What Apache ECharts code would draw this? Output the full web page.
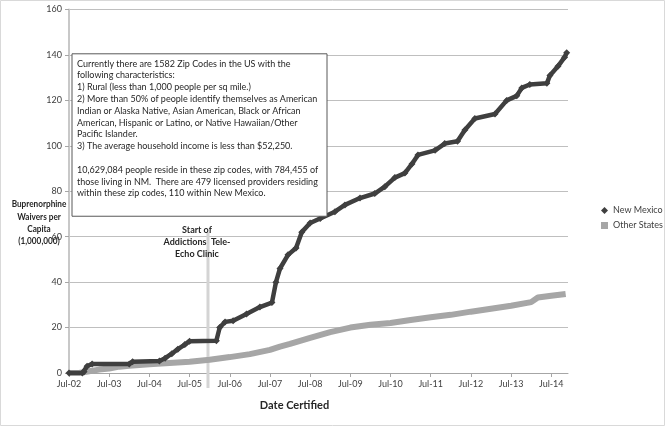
<!DOCTYPE html>
<html><head><meta charset="utf-8">
<script src="https://cdn.jsdelivr.net/npm/echarts@6/dist/echarts.min.js"></script>
<style>html,body{margin:0;padding:0;background:#fff}#c{width:666px;height:426px}</style>
</head><body><div id="c"></div>
<script>
// x values are months since Jul-2002
const nmMonths = [0,4,4.5,5.4,6.9,18,19,27,28.7,30.7,32.5,34.6,36,44,45,46.6,49,53,57,60.6,61.8,63,65.4,67.8,69.5,72,75,79.4,82.4,86.9,91.3,94.3,97.3,100.3,102.4,104.2,109.3,112.2,116,118.2,121.2,127.2,130.7,133.7,135.2,137.6,142.7,143.6,146,148,148.6];
const nmValues = [0,0,0.5,3,4,4,5,5.3,6.5,8.5,10.5,12.5,14,14.2,20,22.5,23,26,29,31,40,46,52,55,62,66,68,71,74,77,79,82,86,88,92,96,98,101,102,107,112,114,120,122,125.5,127,127.5,131,135,139,141];
const otherMonths = [0,3,6,9,12,15,18,24,30,36,42,48,54,60,63,66,72,78,84,90,96,102,108,114,120,126,132,138,140,144,148.3];
const otherValues = [0,0,0.8,1.5,2,2.8,3.2,3.8,4.4,5,5.8,7,8.3,10.2,11.6,12.8,15.5,18,20,21.2,22,23.3,24.5,25.6,27,28.3,29.6,31.2,33.2,34,34.8];
const seriesNames = ['New Mexico','Other States'];
const xTitle = 'Date Certified';
const yTitleLines = ['Buprenorphine','Waivers per','Capita','(1,000,000)'];
const clinicMonth = 41.5;
const clinicLines = ['Start of','Addictions  Tele-','Echo Clinic'];
const boxLines = [
 'Currently there are 1582 Zip Codes in the US with the',
 'following characteristics:',
 '1) Rural (less than 1,000 people per sq mile.)',
 '2) More than 50% of people identify themselves as American',
 'Indian or Alaska Native, Asian American, Black or African',
 'American, Hispanic or Latino, or Native Hawaiian/Other',
 'Pacific Islander.',
 '3) The average household income is less than $52,250.',
 '',
 '10,629,084 people reside in these zip codes, with 784,455 of',
 'those living in NM.  There are 479 licensed providers residing',
 'within these zip codes, 110 within New Mexico.'
];
const FONT = 'Lato, "Open Sans", sans-serif';
function monthLabel(m){ const y = 2 + Math.round(m/12); return 'Jul-' + String(y).padStart(2,'0'); }

const chart = echarts.init(document.getElementById('c'), null, {renderer:'canvas'});
const option = {
  animation:false,
  backgroundColor:'#fff',
  textStyle:{fontFamily:FONT},
  grid:{left:69,right:98,top:9.5,bottom:53,containLabel:false},
  legend:{
    orient:'vertical', left:596, top:201, itemGap:6, itemWidth:7, itemHeight:7,
    textStyle:{fontSize:9,color:'#404040',fontFamily:FONT},
    data:[{name:seriesNames[0],icon:'diamond'},{name:seriesNames[1],icon:'rect'}]
  },
  xAxis:{
    type:'value', min:0, max:149, interval:12,
    axisLine:{lineStyle:{color:'#a6a6a6',width:1}},
    axisTick:{show:true,length:4,lineStyle:{color:'#a6a6a6'}},
    axisLabel:{formatter:monthLabel,fontSize:9,color:'#404040',margin:7,showMaxLabel:false},
    splitLine:{show:false}
  },
  yAxis:{
    type:'value', min:0, max:160, interval:20,
    axisLine:{show:true,lineStyle:{color:'#c8c8c8',width:2}},
    axisTick:{show:true,length:4,lineStyle:{color:'#a6a6a6'}},
    axisLabel:{fontSize:9,color:'#404040',margin:7},
    splitLine:{lineStyle:{color:'#bfbfbf',width:1}}
  },
  series:[
    {name:seriesNames[1],type:'line',data:otherMonths.map((m,i)=>[m,otherValues[i]]),
     lineStyle:{color:'#a6a6a6',width:6},itemStyle:{color:'#a6a6a6'},symbol:'rect',symbolSize:6,showSymbol:false,z:2},
    {name:seriesNames[0],type:'line',data:nmMonths.map((m,i)=>[m,nmValues[i]]),
     lineStyle:{color:'#3f3f3f',width:4.5},itemStyle:{color:'#3f3f3f'},symbol:'diamond',symbolSize:7,showSymbol:true,z:3}
  ]
};
chart.setOption(option);

// annotations placed through the chart's own scales
const xClinic = chart.convertToPixel({xAxisIndex:0}, clinicMonth);
const yTop = chart.convertToPixel({yAxisIndex:0}, 62);
const yZero = chart.convertToPixel({yAxisIndex:0}, 0);
const yBoxTop = chart.convertToPixel({yAxisIndex:0}, 140.5);
const yBoxBot = chart.convertToPixel({yAxisIndex:0}, 69);
const xLeft = chart.convertToPixel({xAxisIndex:0}, 0);
const graphics = [];
graphics.push({type:'line',shape:{x1:xClinic,y1:yTop,x2:xClinic,y2:yZero+15},style:{stroke:'#d4d4d4',lineWidth:3},z:1});
clinicLines.forEach((t,i)=>graphics.push({type:'text',x:xClinic-11,y:230+i*12,scaleX:0.9,style:{text:t,font:'bold 10px '+FONT,fill:'#262626',textAlign:'center',textVerticalAlign:'middle'},z:10}));
graphics.push({type:'rect',shape:{x:xLeft+3,y:yBoxTop,width:255,height:yBoxBot-yBoxTop},style:{fill:'#fff',stroke:'#595959',lineWidth:1},z:20});
boxLines.forEach((t,i)=>graphics.push({type:'text',x:xLeft+8,y:63.3+i*11.8,scaleX:0.9,style:{text:t,font:'10px '+FONT,fill:'#262626',textVerticalAlign:'middle'},z:21}));
yTitleLines.forEach((t,i)=>graphics.push({type:'text',x:39,y:204+i*12.3,scaleX:0.82,style:{text:t,font:'bold 10px '+FONT,fill:'#262626',textAlign:'center',textVerticalAlign:'middle'},z:5}));
graphics.push({type:'text',x:(xLeft+chart.convertToPixel({xAxisIndex:0},149))/2-24,y:405,style:{text:xTitle,font:'bold 11px '+FONT,fill:'#262626',textAlign:'center',textVerticalAlign:'middle'},z:5});
graphics.push({type:'rect',shape:{x:0.5,y:0.5,width:664,height:425},style:{fill:'none',stroke:'#d9d9d9',lineWidth:1},z:0,silent:true});
chart.setOption({graphic:graphics});
</script></body></html>
